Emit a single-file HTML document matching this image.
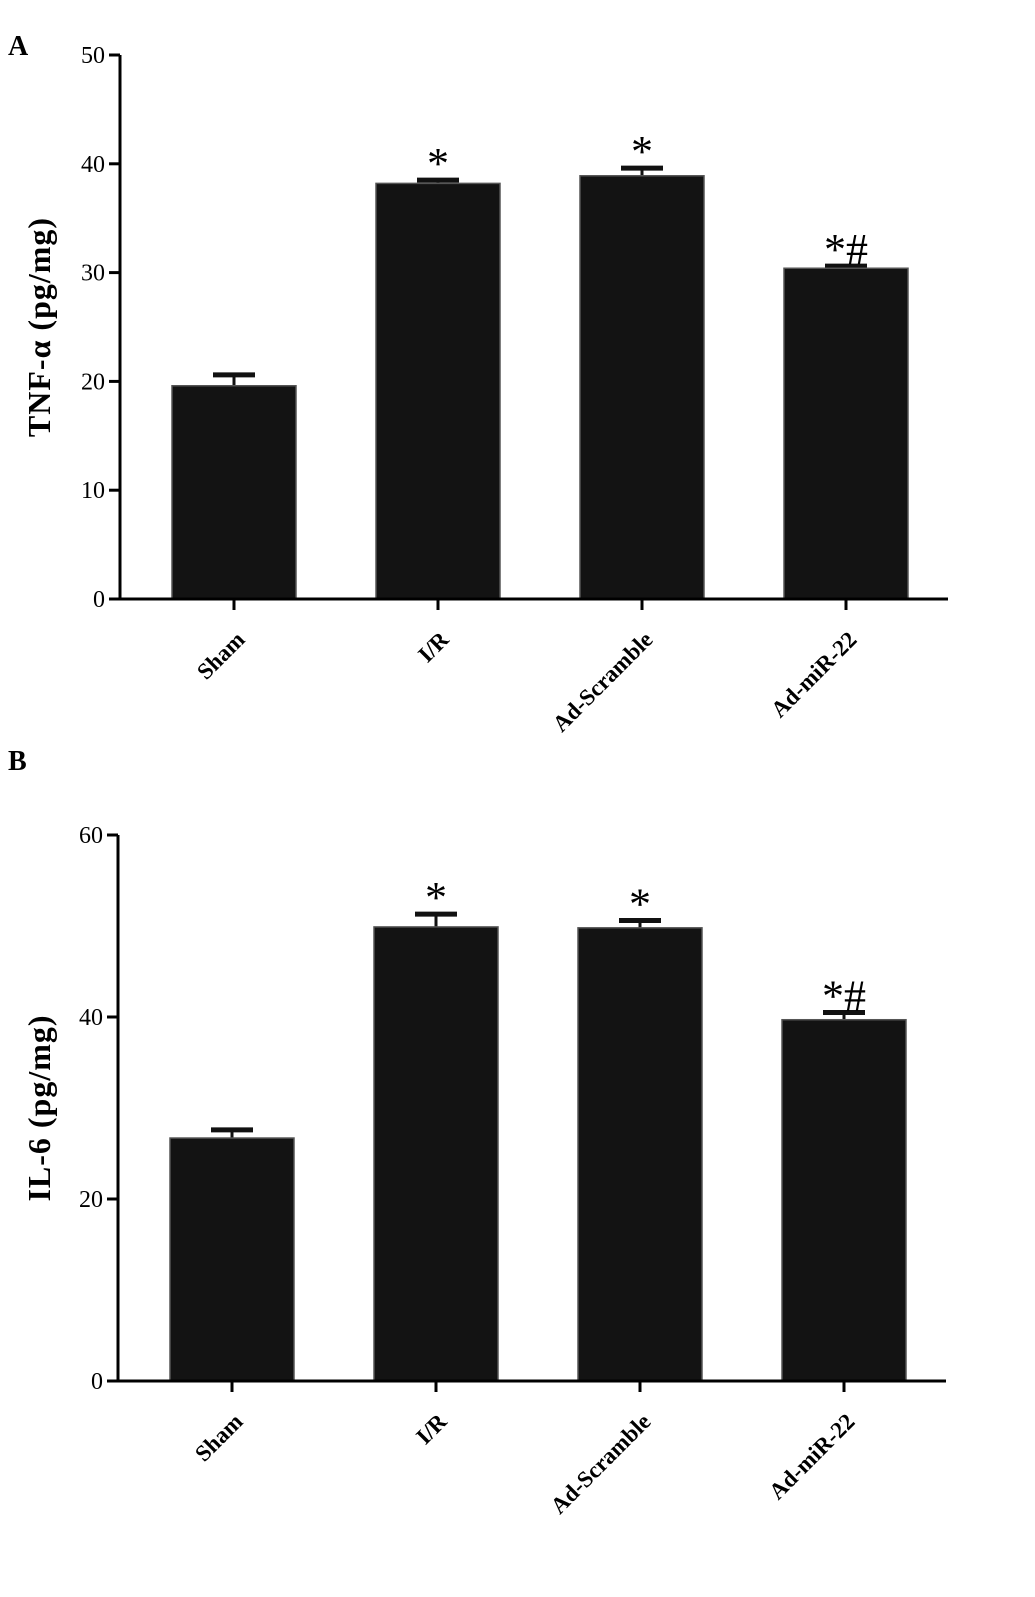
<!DOCTYPE html>
<html><head><meta charset="utf-8"><style>
body{margin:0;background:#fff}
svg{display:block;font-family:"Liberation Serif",serif}
</style></head><body>
<svg id="chart" width="1035" height="1597" viewBox="0 0 1035 1597" xmlns="http://www.w3.org/2000/svg"></svg>
<script>
const categories = ["Sham","I/R","Ad-Scramble","Ad-miR-22"];
const tnfValues = [19.6, 38.2, 38.9, 30.4];
const tnfErrors = [1.0, 0.3, 0.7, 0.2];
const tnfMarks = ["", "*", "*", "*#"];
const tnfTicks = [0,10,20,30,40,50];
const il6Values = [26.7, 49.9, 49.8, 39.7];
const il6Errors = [0.9, 1.4, 0.8, 0.8];
const il6Marks = ["", "*", "*", "*#"];
const il6Ticks = [0,20,40,60];

const NS="http://www.w3.org/2000/svg";
const svg=document.getElementById('chart');
function mk(tag,attrs,parent,text){const e=document.createElementNS(NS,tag);for(const k in attrs)e.setAttribute(k,attrs[k]);if(text!==undefined)e.textContent=text;(parent||svg).appendChild(e);return e;}

function panel(cfg){
  const g=mk('g',{});
  
  
  const yMax=cfg.ticks[cfg.ticks.length-1];
  const y=v=>cfg.y0-(v/yMax)*(cfg.y0-cfg.yTop);
  const x=i=>cfg.firstX+cfg.step*i;
  const lt=mk('text',{x:cfg.letterX,y:cfg.letterY,'font-size':28,'font-weight':'bold'},g,cfg.letter);
  
  
  categories.forEach((c,i)=>{
    const v=cfg.values[i],e=cfg.errors[i],cx=x(i),bw=124;
    const top=y(v+e);
    const el=mk('line',{x1:cx,x2:cx,y1:y(v),y2:top,stroke:'#111','stroke-width':3},g);
    
    
    const cap=mk('line',{x1:cx-21,x2:cx+21,y1:top,y2:top,stroke:'#111','stroke-width':5},g);
    
    
    const b=mk('rect',{x:cx-bw/2,y:y(v),width:bw,height:cfg.y0-y(v),fill:'#131313',stroke:'#555','stroke-width':1.5},g);
    
    
    if(cfg.marks[i]){
      const m=mk('text',{x:cx,y:top+cfg.markDy,'text-anchor':'middle','font-size':44},g,cfg.marks[i]);
      
      
    }
    const tk=mk('line',{x1:cx,x2:cx,y1:cfg.y0,y2:cfg.y0+11,stroke:'#000','stroke-width':3},g);
    
    
    const ax=cx+12, ay=cfg.y0+42;
    const lb=mk('text',{x:ax,y:ay,'text-anchor':'end','font-size':23,'font-weight':'bold',transform:`rotate(-45 ${ax} ${ay})`},g,c);
    
    
  });
  const ya=mk('line',{x1:cfg.axisX,x2:cfg.axisX,y1:cfg.yTop,y2:cfg.y0+1.5,stroke:'#000','stroke-width':3},g);
  
  
  const xa=mk('line',{x1:cfg.axisX,x2:cfg.xEnd,y1:cfg.y0,y2:cfg.y0,stroke:'#000','stroke-width':3},g);
  
  
  cfg.ticks.forEach(t=>{
    const tl=mk('line',{x1:cfg.axisX-11,x2:cfg.axisX,y1:y(t),y2:y(t),stroke:'#000','stroke-width':3},g);
    
    
    const tt=mk('text',{x:cfg.axisX-15,y:y(t)+8,'text-anchor':'end','font-size':24},g,String(t));
    
    
  });
  const mid=(cfg.y0+cfg.yTop)/2;
  const yt=mk('text',{x:50,y:mid,'text-anchor':'middle','font-size':32,'font-weight':'bold','letter-spacing':1,transform:`rotate(-90 50 ${mid})`},g,cfg.title);
  
  
}
panel({name:'panel-a-tnf',letter:'A',letterX:8,letterY:55,axisX:120,xEnd:948,firstX:234,step:204,y0:599,yTop:55,ticks:tnfTicks,values:tnfValues,errors:tnfErrors,marks:tnfMarks,title:'TNF-α (pg/mg)',markDy:-2});
panel({name:'panel-b-il6',letter:'B',letterX:8,letterY:770,axisX:118,xEnd:946,firstX:232,step:204,y0:1381,yTop:835,ticks:il6Ticks,values:il6Values,errors:il6Errors,marks:il6Marks,title:'IL-6 (pg/mg)',markDy:-2});
</script>
</body></html>
